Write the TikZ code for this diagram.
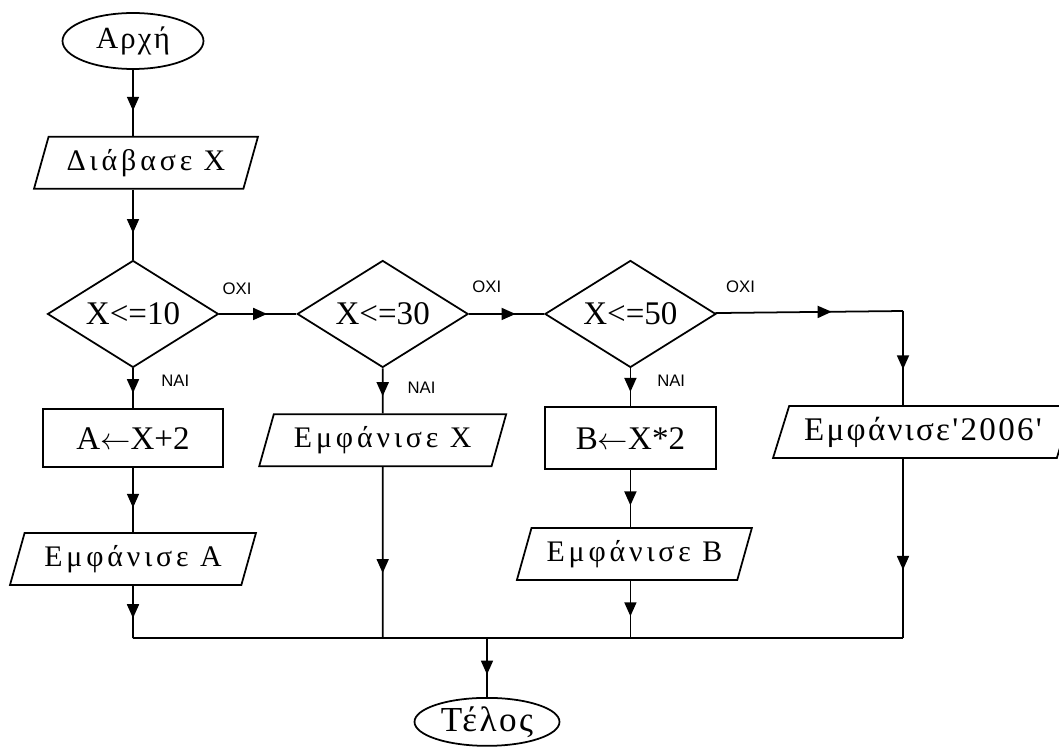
\documentclass[tikz,border=0pt]{standalone}
\usepackage{fontspec}
\setmainfont{Liberation Serif}
\setsansfont{Liberation Sans}
\newfontfamily\grtrack[LetterSpace=13]{Liberation Serif}
\newfontfamily\grwide[LetterSpace=7]{Liberation Serif}
\usetikzlibrary{positioning, arrows.meta, shapes.geometric, decorations.markings}

\begin{document}
\begin{tikzpicture}[
    x=0.02cm, y=-0.02cm,
    node distance=1.4cm,
    blk/.style={draw, line width=1pt, inner sep=0pt, text=black},
    terminal/.style={blk, ellipse, minimum width=2.82cm, minimum height=1.12cm,
                     font=\grwide\fontsize{17.5}{20}\selectfont},
    io/.style={blk, trapezium, trapezium left angle=62, trapezium right angle=118,
               trapezium stretches body=true, minimum height=1.04cm,
               font=\grtrack\fontsize{17}{20}\selectfont},
    proc/.style={blk, rectangle, font=\fontsize{18.8}{22}\selectfont},
    decision/.style={blk, diamond, aspect=1.6, minimum width=3.42cm, minimum height=2.14cm,
                     font=\fontsize{18.8}{22}\selectfont},
    flow/.style={line width=1pt, postaction={decorate},
                 decoration={markings, mark=at position 0.62 with {\arrow{Triangle[length=0.28cm, width=0.24cm]}}}},
    wire/.style={line width=1pt},
    lbl/.style={font=\sffamily\fontsize{9.5}{11}\selectfont, inner sep=0pt},
  ]

  \fill[white] (0,0) rectangle (1059,750);
  \useasboundingbox (0,0) rectangle (1059,750);

  % -- left column --
  \node[terminal] (start) at (133,41) {Αρχή};
  \node[io, minimum width=4.48cm, below=1.32cm of start, xshift=0.26cm] (read) {Διάβασε X};
  \node[decision, below=1.4cm of read, xshift=-0.26cm] (d1) {X<=10};
  \node[proc, minimum width=3.6cm, minimum height=1.16cm, below=0.8cm of d1] (setA) {A$\leftarrow$X+2};
  \node[io, minimum width=4.92cm, below=1.28cm of setA] (showA) {Εμφάνισε A};

  % -- second and third tests --
  \node[decision, right=1.54cm of d1] (d2) {X<=30};
  \node[io, minimum width=4.94cm, below=0.9cm of d2] (showX) {Εμφάνισε X};
  \node[decision, right=1.5cm of d2] (d3) {X<=50};
  \node[proc, minimum width=3.42cm, minimum height=1.24cm, below=0.76cm of d3] (setB) {B$\leftarrow$X*2};
  \node[io, minimum width=4.7cm, below=1.14cm of setB, xshift=0.08cm] (showB) {Εμφάνισε B};

  % -- right branch --
  \coordinate (turn) at (903,311);
  \node[io, minimum width=6cm, font=\grwide\fontsize{18.8}{22}\selectfont] (show2006) at (923,432) {Εμφάνισε'2006'};

  % -- end --
  \coordinate (merge) at (487,638);
  \node[terminal, minimum width=2.9cm, minimum height=0.96cm, font=\grwide\fontsize{20}{24}\selectfont,
        below=1.18cm of merge] (stop) {Τέλος};

  % -- arrows --
  \draw[flow] (start) -- (start |- read.north);
  \draw[flow] (start |- read.south) -- (d1);

  \draw[flow] (d1) -- node[lbl, pos=0, anchor=south west, xshift=0.05cm, yshift=0.36cm] {ΟΧΙ} (d2);
  \draw[flow] (d2) -- node[lbl, pos=0, anchor=south west, xshift=0.05cm, yshift=0.4cm] {ΟΧΙ} (d3);
  \draw[flow] (d3) -- node[lbl, pos=0, anchor=south west, xshift=0.2cm, yshift=0.4cm] {ΟΧΙ} (turn);
  \draw[flow] (turn) -- (turn |- show2006.north);

  \draw[flow] (d1) -- node[lbl, pos=0, anchor=north west, xshift=0.55cm, yshift=-0.12cm] {ΝΑΙ} (setA);
  \draw[flow] (d2) -- node[lbl, pos=0, anchor=north west, xshift=0.48cm, yshift=-0.25cm] {ΝΑΙ} (showX);
  \draw[flow] (d3) -- node[lbl, pos=0, anchor=north west, xshift=0.52cm, yshift=-0.12cm] {ΝΑΙ} (setB);

  \draw[flow] (setA) -- (showA);
  \draw[flow] (setB) -- (setB |- showB.north);

  \draw[flow] (showA) -- (showA |- merge);
  \draw[flow] (showX) -- (showX |- merge);
  \draw[flow] (setB |- showB.south) -- (setB |- merge);
  \draw[flow] (turn |- show2006.south) -- (turn |- merge);
  \draw[wire] (showA |- merge) -- (turn |- merge);

  \draw[flow] (merge) -- (stop);

\end{tikzpicture}
\end{document}
